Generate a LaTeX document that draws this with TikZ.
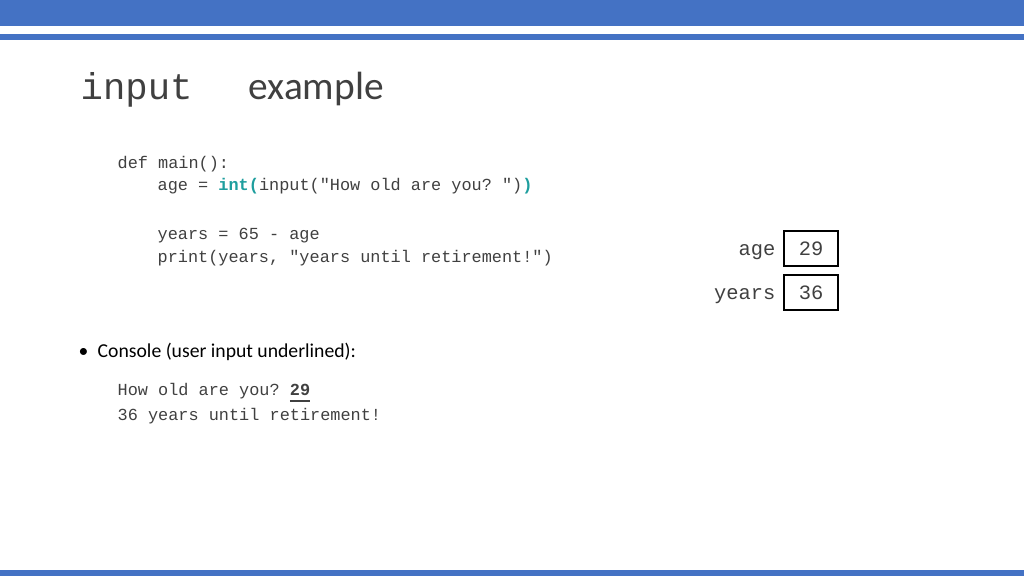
\documentclass[tikz,border=0pt]{standalone}
\usepackage{fontspec}
\setmainfont{Carlito}
\setmonofont{Liberation Mono}
\definecolor{bar}{HTML}{4472C4}
\definecolor{txt}{HTML}{404040}
\definecolor{teal2}{HTML}{1E9E9E}
\tikzset{code/.style={anchor=base west,inner sep=0,font=\fontsize{4.8pt}{5pt}\ttfamily,text=txt},
 varlbl/.style={anchor=base east,inner sep=0,font=\fontsize{5.8pt}{6pt}\ttfamily,text=txt},
 cell/.style={draw=black,line width=0.55pt,minimum width=0.54cm,minimum height=0.35cm,inner sep=0,font=\fontsize{5.8pt}{6pt}\ttfamily,text=txt}}
\begin{document}
\begin{tikzpicture}[x=0.01cm,y=-0.01cm]
\useasboundingbox (0,0) rectangle (1024,576);
\fill[bar] (0,0) rectangle (1024,26);
\fill[bar] (0,34) rectangle (1024,40);
\fill[bar] (0,570) rectangle (1024,576);
\node[anchor=base west,inner sep=0,text=txt] (t1) at (80,100) {\fontsize{10.6pt}{11pt}\ttfamily input};
\node[anchor=base west,inner sep=0,text=txt] (t2) at (248,100) {\fontsize{11.2pt}{12pt}\selectfont example};
\node[code] (c1) at (117,169) {def main():};
\node[code] (c2) at (157,191) {age = \textcolor{teal2}{\textbf{int(}}input("How old are you? ")\textcolor{teal2}{\textbf{)}}};
\node[code] (c3) at (157,240) {years = 65 - age};
\node[code] (c4) at (157,262) {print(years, "years until retirement!")};
\node[cell] (b1) at (811,248.5) {29};
\node[cell] (b2) at (811,292.5) {36};
\node[varlbl] (l1) at (776,255) {age};
\node[varlbl] (l2) at (776,299) {years};
\node[anchor=base west,inner sep=0,text=black] (bu) at (78,357) {\fontsize{5.6pt}{6pt}\selectfont\textbullet};
\node[anchor=base west,inner sep=0,text=black] (con) at (97,357) {\fontsize{5.6pt}{6pt}\selectfont Console (user input underlined):};
\node[code] (o1) at (117,396) {How old are you? \underline{\textbf{29}}};
\node[code] (o2) at (117,420) {36 years until retirement!};
\end{tikzpicture}
\end{document}
